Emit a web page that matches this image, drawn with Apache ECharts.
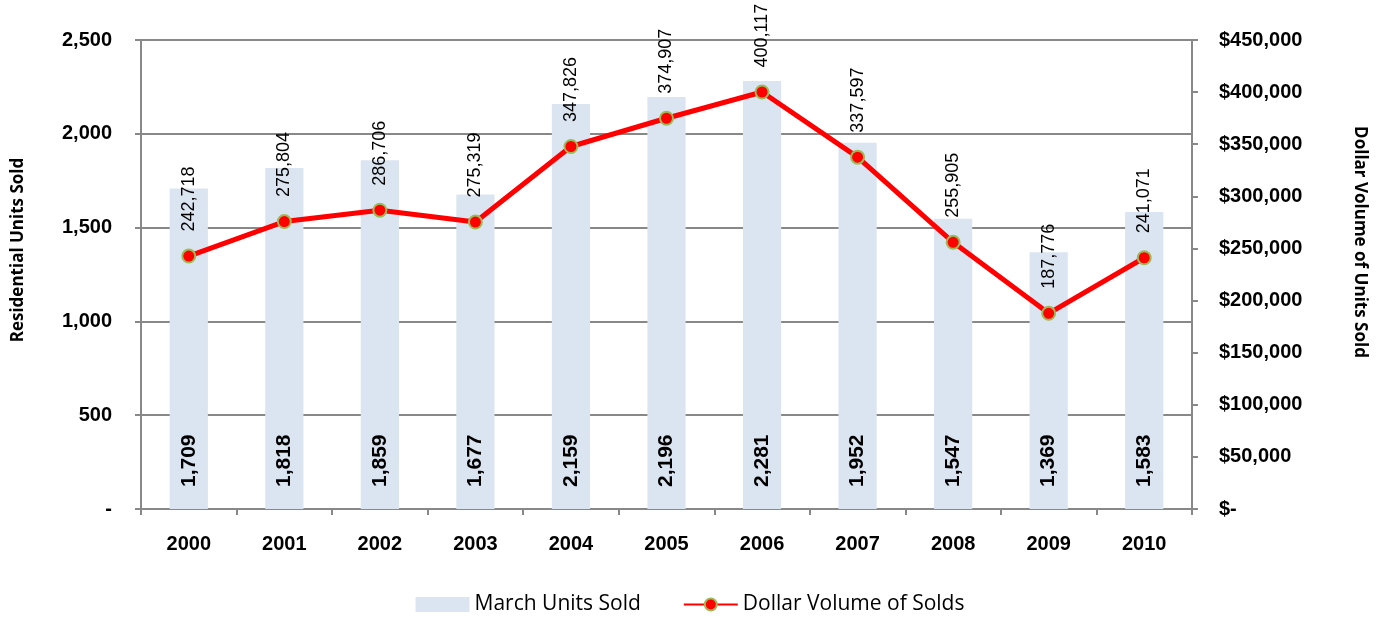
<!DOCTYPE html>
<html>
<head>
<meta charset="utf-8">
<script src="https://cdn.jsdelivr.net/npm/echarts@6/dist/echarts.min.js"></script>
<style>
  html, body { margin: 0; padding: 0; background: #fff; }
  #chart { width: 1380px; height: 620px; }
</style>
</head>
<body>
<div id="chart"></div>
<script>
const years = ['2000', '2001', '2002', '2003', '2004', '2005', '2006', '2007', '2008', '2009', '2010']
const unitsSold = [1709, 1818, 1859, 1677, 2159, 2196, 2281, 1952, 1547, 1369, 1583]
const dollarVolume = [242718, 275804, 286706, 275319, 347826, 374907, 400117, 337597, 255905, 187776, 241071]

const fmt = v => v.toLocaleString('en-US')
const font = '"Liberation Sans", Arial, sans-serif'
const titleFont = '"Open Sans", sans-serif'

const chart = echarts.init(document.getElementById('chart'))

chart.setOption({
  animation: false,
  textStyle: { fontFamily: font },
  grid: { left: 141, right: 188, top: 40, bottom: 111 },
  // axis titles sit above the plot centre in the original, so place them by hand
  graphic: [
    {
      type: 'text',
      x: 18, y: 250,
      rotation: Math.PI / 2,
      style: {
        text: 'Residential Units Sold',
        fontFamily: titleFont,
        fontWeight: 'bold',
        fontSize: 17,
        fill: '#000',
        align: 'center',
        verticalAlign: 'middle'
      }
    },
    {
      type: 'text',
      x: 1360, y: 242,
      rotation: -Math.PI / 2,
      style: {
        text: 'Dollar Volume of Units Sold',
        fontFamily: titleFont,
        fontWeight: 'bold',
        fontSize: 17,
        fill: '#000',
        align: 'center',
        verticalAlign: 'middle'
      }
    }
  ],
  legend: {
    bottom: 0,
    left: 'center',
    itemGap: 42,
    itemWidth: 54,
    itemHeight: 15,
    textStyle: { fontFamily: titleFont, fontSize: 21, color: '#000' },
    data: [
      { name: 'March Units Sold', icon: 'rect' },
      { name: 'Dollar Volume of Solds' }
    ]
  },
  xAxis: {
    type: 'category',
    data: years,
    axisLine: { lineStyle: { color: '#888', width: 2 } },
    axisTick: { show: true, length: 6, lineStyle: { color: '#888', width: 2 } },
    axisLabel: { color: '#000', fontFamily: font, fontWeight: 'bold', fontSize: 20, margin: 25 }
  },
  yAxis: [
    {
      type: 'value',
      min: 0, max: 2500, interval: 500,
      axisLine: { show: true, lineStyle: { color: '#888', width: 2 } },
      axisTick: { show: true, length: 6, lineStyle: { color: '#888', width: 2 } },
      splitLine: { lineStyle: { color: '#888', width: 2 } },
      axisLabel: {
        color: '#000', fontFamily: font, fontWeight: 'bold', fontSize: 20, margin: 29,
        formatter: v => v === 0 ? '-' : fmt(v)
      }
    },
    {
      type: 'value',
      min: 0, max: 450000, interval: 50000,
      axisLine: { show: true, lineStyle: { color: '#888', width: 2 } },
      axisTick: { show: true, length: 6, lineStyle: { color: '#888', width: 2 } },
      splitLine: { show: false },
      axisLabel: {
        color: '#000', fontFamily: font, fontWeight: 'bold', fontSize: 20, margin: 27,
        formatter: v => v === 0 ? '$-' : '$' + fmt(v)
      }
    }
  ],
  series: [
    {
      name: 'March Units Sold',
      type: 'bar',
      yAxisIndex: 0,
      data: unitsSold,
      barWidth: '40%',
      itemStyle: { color: '#dbe5f1' },
      label: {
        show: true,
        position: 'insideBottom',
        rotate: 90,
        align: 'left',
        verticalAlign: 'middle',
        distance: 22,
        color: '#000',
        fontFamily: font,
        fontWeight: 'bold',
        fontSize: 21,
        formatter: p => fmt(p.value)
      }
    },
    {
      name: 'Dollar Volume of Solds',
      type: 'line',
      yAxisIndex: 1,
      data: dollarVolume,
      symbol: 'circle',
      symbolSize: 13,
      lineStyle: { color: '#ff0000', width: 5 },
      itemStyle: { color: '#ff0000', borderColor: '#9bbb59', borderWidth: 2 },
      label: {
        show: true,
        position: 'top',
        rotate: 90,
        align: 'left',
        verticalAlign: 'middle',
        distance: 17,
        color: '#000',
        fontFamily: font,
        fontSize: 18,
        formatter: p => fmt(p.value)
      }
    }
  ]
})
</script>
</body>
</html>
